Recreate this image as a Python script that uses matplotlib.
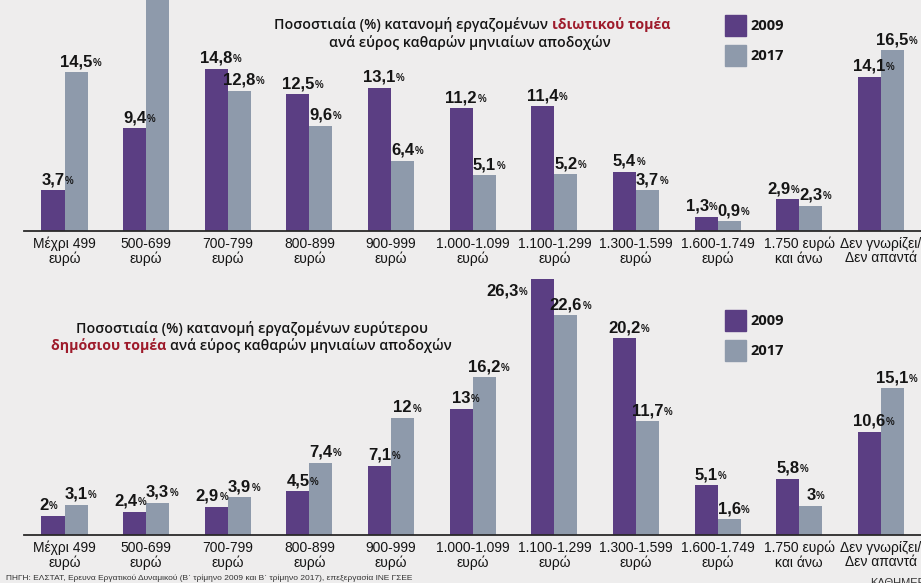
import matplotlib
matplotlib.use("Agg")
import matplotlib.pyplot as plt
from matplotlib.patches import Rectangle
import numpy as np

# income brackets (same for both panels)
categories = ["Μέχρι 499\nευρώ", "500-699\nευρώ", "700-799\nευρώ", "800-899\nευρώ",
              "900-999\nευρώ", "1.000-1.099\nευρώ", "1.100-1.299\nευρώ",
              "1.300-1.599\nευρώ", "1.600-1.749\nευρώ", "1.750 ευρώ\nκαι άνω",
              "Δεν γνωρίζει/\nΔεν απαντά"]
years = ["2009", "2017"]

# private sector (%); the 500-699 / 2017 bar runs off the page, value estimated
private_2009 = [3.7, 9.4, 14.8, 12.5, 13.1, 11.2, 11.4, 5.4, 1.3, 2.9, 14.1]
private_2017 = [14.5, 23.0, 12.8, 9.6, 6.4, 5.1, 5.2, 3.7, 0.9, 2.3, 16.5]

# wider public sector (%)
public_2009 = [2, 2.4, 2.9, 4.5, 7.1, 13, 26.3, 20.2, 5.1, 5.8, 10.6]
public_2017 = [3.1, 3.3, 3.9, 7.4, 12, 16.2, 22.6, 11.7, 1.6, 3, 15.1]

source = ("ΠΗΓΗ: ΕΛΣΤΑΤ, Ερευνα Εργατικού Δυναμικού (Β΄ τρίμηνο 2009 και Β΄ τρίμηνο 2017), "
          "επεξεργασία ΙΝΕ ΓΣΕΕ")

BG = "#eeeded"
PURPLE = "#5b3e83"
GRAY = "#8e9aab"
RED = "#9e1b2b"
INK = "#151515"
NARROW = ["Liberation Sans", "DejaVu Sans"]
SANS = ["Open Sans", "DejaVu Sans"]

W, H = 921, 583
fig = plt.figure(figsize=(W / 100, H / 100), dpi=100)
fig.patch.set_facecolor(BG)


def fmt(v):
    if v == int(v):
        return str(int(v))
    return ("%.1f" % v).replace(".", ",")


def value_label(ax, x, v, dx=0, dy=3, ha="center", va="bottom"):
    t = ax.annotate(fmt(v), xy=(x, v), xytext=(dx, dy), textcoords="offset pixels",
                    ha=ha, va=va, fontsize=12, fontweight="bold", family=NARROW,
                    color=INK, annotation_clip=False)
    ax.annotate("%", xy=(1, 0), xycoords=t, xytext=(0.5, 1.5), textcoords="offset pixels",
                ha="left", va="bottom", fontsize=7, fontweight="bold", family=NARROW,
                color=INK)
    return t


def panel(rect, v09, v17, ymax, special=None):
    ax = fig.add_axes(rect)
    ax.set_facecolor("none")
    x = np.arange(len(categories))
    w = 0.282
    ax.bar(x - w / 2, v09, w, color=PURPLE)
    ax.bar(x + w / 2, v17, w, color=GRAY)
    ax.set_xlim(-0.5, 10.5)
    ax.set_ylim(0, ymax)
    for s in ["top", "right", "left"]:
        ax.spines[s].set_visible(False)
    ax.spines["bottom"].set_color("#2a2a2a")
    ax.spines["bottom"].set_linewidth(1.3)
    ax.set_yticks([])
    ax.set_xticks(x)
    ax.set_xticklabels(categories, fontsize=10, family=NARROW, color=INK, linespacing=1.05)
    ax.tick_params(axis="x", length=0, pad=4)
    for i in range(len(categories)):
        if v09[i] < ymax:
            if special == i:
                # label placed to the left of the tallest bar
                value_label(ax, i - w, v09[i], dx=-13, dy=-4, ha="right", va="top")
            elif abs(v09[i] - v17[i]) < 1.5:
                # labels at almost the same height: nudge the left one outwards
                value_label(ax, i - w / 2, v09[i], dx=-9)
            else:
                value_label(ax, i - w / 2, v09[i])
        if v17[i] < ymax:
            value_label(ax, i + w / 2, v17[i])
    return ax


ax_top = panel([23.7 / W, (H - 231) / H, 898 / W, 231 / H],
               private_2009, private_2017, 231 / 10.95)
ax_bot = panel([23.7 / W, (H - 535) / H, 898 / W, 265 / H],
               public_2009, public_2017, 265 / 9.73, special=6)


def rich_line(segments, xc, yc, size):
    r = fig.canvas.get_renderer()
    texts = []
    for s, color, weight in segments:
        t = fig.text(0, 1 - yc / H, s, fontsize=size, color=color, fontweight=weight,
                     family=SANS, ha="left", va="center")
        texts.append(t)
    widths = [t.get_window_extent(r).width for t in texts]
    gap = 0.28 * size * 100 / 72
    total = sum(widths) + gap * (len(texts) - 1)
    x = xc - total / 2
    for t, wd in zip(texts, widths):
        t.set_x(x / W)
        x += wd + gap


# titles
rich_line([("Ποσοστιαία (%) κατανομή εργαζομένων", INK, "semibold"),
           ("ιδιωτικού τομέα", RED, "bold")], 472, 25, 10.2)
rich_line([("ανά εύρος καθαρών μηνιαίων αποδοχών", INK, "semibold")], 470, 43, 10.2)
rich_line([("Ποσοστιαία (%) κατανομή εργαζομένων ευρύτερου", INK, "semibold")], 252, 329, 10.2)
rich_line([("δημόσιου τομέα", RED, "bold"),
           ("ανά εύρος καθαρών μηνιαίων αποδοχών", INK, "semibold")], 251, 346, 10.2)

# legends
for top in (15, 310):
    for k, (yr, col) in enumerate(zip(years, [PURPLE, GRAY])):
        y0 = top + k * 30
        fig.patches.append(Rectangle((725 / W, 1 - (y0 + 21) / H), 21 / W, 21 / H,
                                     transform=fig.transFigure, color=col))
        fig.text(750 / W, 1 - (y0 + 11) / H, yr, fontsize=10.5, fontweight="bold",
                 family=SANS, color=INK, ha="left", va="center")

fig.text(6 / W, 1 - 578 / H, source, fontsize=6, family=NARROW, color="#333333",
         ha="left", va="center")
fig.text(870 / W, 1 - 578 / H, "ΚΑΘΗΜΕΡΙΝΗ", fontsize=8, family=NARROW,
         color="#333333", ha="left", va="top")

fig.savefig("out.png", dpi=100, facecolor=BG)
